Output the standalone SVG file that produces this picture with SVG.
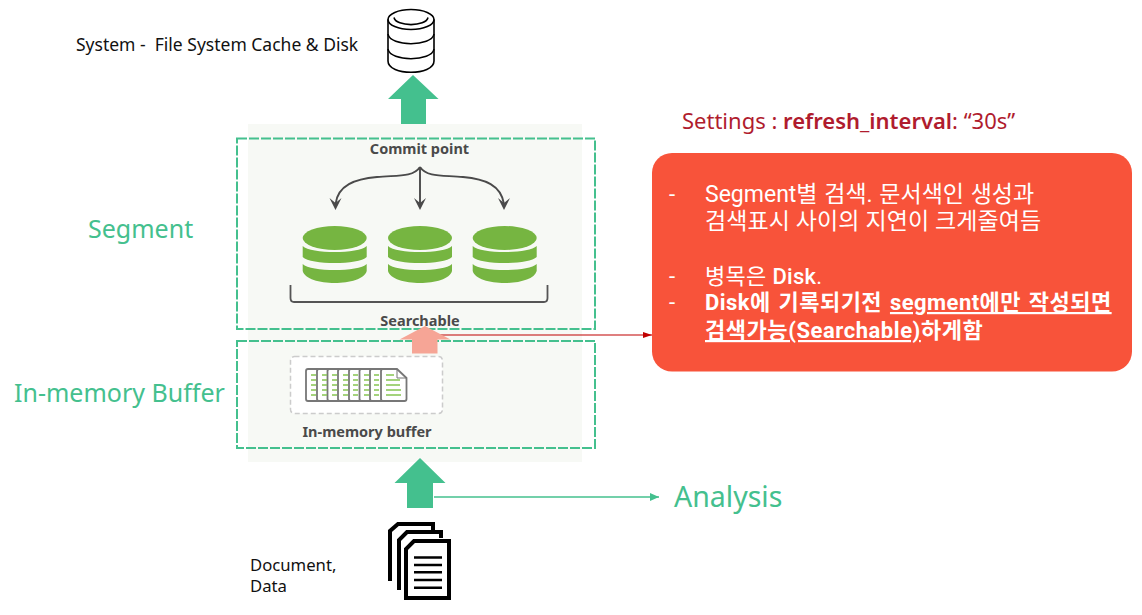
<svg xmlns="http://www.w3.org/2000/svg" width="1142" height="615" viewBox="0 0 1142 615">
<style>
.f{font-family:"Noto Sans","Noto Sans CJK KR",sans-serif}
.n{font-family:Roboto,"Noto Sans CJK KR",sans-serif}
.g{fill:#44c08e}
.lab{font-size:25px;fill:#44c08e}
.blk{font-size:16.7px;fill:#111}
.img{font-size:14.5px;font-weight:700;fill:#4a4a4a}
.w{font-size:22px;fill:#fff}
.ko{font-size:23px}
.dash{fill:none;stroke:#44c08e;stroke-width:2;stroke-dasharray:10 2}
.disk{fill:#76b541}
.ic{fill:none;stroke:#4a4a4a;stroke-width:1.9}
.doc{fill:none;stroke:#000;stroke-width:4}
.ln{stroke:#000;stroke-width:2.6}
.cy{fill:none;stroke:#000;stroke-width:1.6}
.pg{fill:#fff;stroke:#777;stroke-width:1.8}
.gl{stroke:#86c552;stroke-width:1.5;fill:none}
</style>
<defs>
<marker id="ag" markerWidth="10" markerHeight="10" refX="9" refY="4" orient="auto" markerUnits="userSpaceOnUse"><path d="M0 0L9 4L0 8z" fill="#44c08e"/></marker>
<marker id="ar" markerWidth="10" markerHeight="8" refX="9" refY="3" orient="auto" markerUnits="userSpaceOnUse"><path d="M0 0L9 3L0 6z" fill="#c00000"/></marker>
<path id="hd" d="M-6 -12L0 -7L6 -12L0 0z" fill="#4a4a4a"/>
<g id="dk"><path class="disk" d="M-32 12A32 12 0 0 1 32 12A32 12 0 0 1-32 12z"/><path class="disk" d="M-32 20C-24 28 24 28 32 20V31C24 39-24 39-32 31z"/><path class="disk" d="M-32 38C-24 46 24 46 32 38V45C28 61-28 61-32 45z"/></g>
</defs>

<g id="panel"><rect x="248" y="124" width="334" height="338" fill="#f7f9f5"/></g>

<g id="commit-icons">
<text class="f img" x="419.500" y="154" text-anchor="middle">Commit point</text>
<g class="ic"><path d="M420 167C413 178 395 175 377 177C355 179 338 185 335.500 204"/><path d="M420 167V204"/><path d="M420 167C427 178 445 175 463 177C485 179 501 185 504 204"/></g>
<use href="#hd" x="335.500" y="210"/><use href="#hd" x="420" y="210"/><use href="#hd" x="504" y="210"/>
<use href="#dk" x="334.700" y="226"/><use href="#dk" x="420" y="226"/><use href="#dk" x="504.700" y="226"/>
<path d="M290.500 285V298Q290.500 302 294 302H544Q547.500 302 547.500 298V285" fill="none" stroke="#555" stroke-width="1.800"/>
<text class="f img" x="420" y="326" text-anchor="middle">Searchable</text>
</g>

<g id="buffer-icon">
<rect x="290.500" y="356.500" width="152" height="57" rx="4" fill="#fff" stroke="#ccc" stroke-width="1.500" stroke-dasharray="5 3"/>
<g id="pages">
<rect class="pg" x="306" y="369" width="20" height="32" rx="2"/><rect class="pg" x="317" y="369" width="20" height="32" rx="2"/><rect class="pg" x="327.500" y="369" width="20" height="32" rx="2"/><rect class="pg" x="338" y="369" width="20" height="32" rx="2"/><rect class="pg" x="349" y="369" width="20" height="32" rx="2"/><rect class="pg" x="359.500" y="369" width="20" height="32" rx="2"/><rect class="pg" x="370" y="369" width="20" height="32" rx="2"/>
<path d="M311 375h5M311 380h5M311 385h5M311 390h5M311 395h5M322 375h5M322 380h5M322 385h5M322 390h5M322 395h5M332 375h5M332 380h5M332 385h5M332 390h5M332 395h5M343 375h5M343 380h5M343 385h5M343 390h5M343 395h5M353 375h5M353 380h5M353 385h5M353 390h5M353 395h5M364 375h5M364 380h5M364 385h5M364 390h5M364 395h5M374 375h5M374 380h5M374 385h5M374 390h5M374 395h5" class="gl"/>
<path class="pg" d="M383 369H397L406.500 378V399Q406.500 401 404.500 401H383Q381 401 381 399V371Q381 369 383 369z"/>
<path d="M397 369V378H406.500" fill="none" stroke="#777" stroke-width="1"/>
<path class="gl" d="M386 375h8M386 380h14M386 385h14M386 390h15M386 395h15"/>
</g>
<text class="f" x="367" y="437" text-anchor="middle" font-size="14.500" font-weight="700" fill="#4a4a4a">In-memory buffer</text>
</g>

<g id="segment-frame"><rect class="dash" x="237" y="138.500" width="358" height="190.500"/></g>
<g id="buffer-frame"><rect class="dash" x="237" y="341" width="358" height="107"/></g>

<g id="connectors">
<path d="M434 497H659" stroke="#44c08e" stroke-width="1.300" marker-end="url(#ag)"/>
<path d="M439 335H652" stroke="#c00000" stroke-width="1.200" marker-end="url(#ar)"/>
<path class="g" d="M413 75L438.500 99H426V124H401V99H388z"/>
<path d="M425 326L450.500 339.500H437.500V353.500H412V339.500H399.500z" fill="#f6a596"/>
<path class="g" d="M420 458L445.500 483H433V508H407V483H394.500z"/>
</g>

<g id="system-db">
<ellipse class="cy" cx="411" cy="19.500" rx="23" ry="10"/>
<path class="cy" d="M394 17.500C396 27 426 27 428 17.500"/>
<path class="cy" d="M388 19.500V61C388 76 434 76 434 61V19.500"/>
<path class="cy" d="M388 34C390 47 432 47 434 34M388 49C390 62 432 62 434 49"/>
<text class="f" x="76" y="51" font-size="17.500" fill="#111" xml:space="preserve">System -  File System Cache &amp; Disk</text>
</g>

<g id="documents">
<path class="doc" d="M390 581V531L398 524H433V530"/>
<path class="doc" d="M399 590V540L407 532H441V538"/>
<path class="doc" d="M406 598V549L414 541H449V598z" style="fill:#fff"/>
<path class="ln" d="M414 557.500H442M414 565H442M414 572.300H442M414 580H442M414 587.700H442"/>
<text class="f blk" x="250" y="571">Document,</text>
<text class="f blk" x="250" y="592">Data</text>
</g>

<g id="labels">
<text class="f lab" x="88" y="238">Segment</text>
<text class="f lab" x="14" y="402">In-memory Buffer</text>
<text class="f" x="674" y="507" font-size="28.500" fill="#44c08e">Analysis</text>
</g>

<g id="settings"><text class="f" x="682" y="129" font-size="22" fill="#b01c2e">Settings : <tspan font-weight="600">refresh_interval</tspan>: “30s”</text></g>

<g id="note">
<rect x="652" y="153" width="480" height="218.500" rx="20" fill="#f8533a"/>
<text class="n w"><tspan x="669" y="202">-</tspan><tspan class="ko" x="705" y="202" word-spacing="1">Segment별 검색. 문서색인 생성과</tspan><tspan class="ko" x="705" y="229" letter-spacing="0.1">검색표시 사이의 지연이 크게줄여듬</tspan></text>
<text class="n w"><tspan x="669" y="284">-</tspan><tspan x="705" y="284" letter-spacing="0.3">병목은 <tspan font-weight="500">Disk</tspan>.</tspan><tspan x="669" y="310">-</tspan><tspan x="705" y="310" font-weight="700" word-spacing="2" letter-spacing="0.45">Disk에 기록되기전 <tspan text-decoration="underline">segment에만 작성되면</tspan></tspan><tspan x="705" y="338" font-weight="700" letter-spacing="0.55"><tspan text-decoration="underline">검색가능(Searchable)</tspan>하게함</tspan></text>
</g>
</svg>
